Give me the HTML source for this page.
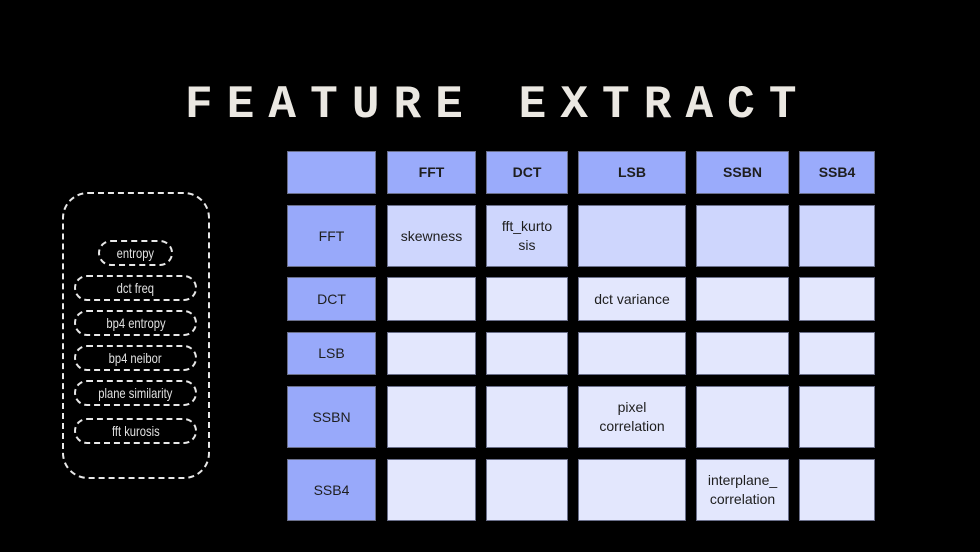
<!DOCTYPE html>
<html><head><style>
body{margin:0;width:980px;height:552px;background:#000;position:relative;overflow:hidden;font-family:"Liberation Sans",sans-serif}
.c{position:absolute;display:flex;align-items:center;justify-content:center;text-align:center;font-size:14px;color:#1e1e1e;box-sizing:border-box;border:1px solid #6a6f8a;line-height:19px}
.h{background:#9aabfb;font-weight:bold}
.r{background:#98a9fa}
.l{background:#ced6fd}
.e{background:#e3e7fd}
.p{position:absolute;border:2px dashed #e8e8e8;border-radius:13px;box-sizing:border-box;color:#e0e0e0;display:flex;align-items:center;justify-content:center;font-size:14px}
.p span{display:inline-block;transform:scaleX(.8)}
#t{position:absolute;left:185px;top:82px;font-family:"Liberation Mono",monospace;font-weight:bold;font-size:46px;letter-spacing:14.1px;color:#ebe8e2;white-space:pre;line-height:46px}
</style></head><body>
<div id="t">FEATURE EXTRACT</div>
<div style="position:absolute;left:62px;top:192px;width:148px;height:287px;border:2px dashed #e8e8e8;border-radius:26px;box-sizing:border-box"></div>
<div class="p" style="left:98px;top:240px;width:75px;height:26px"><span>entropy</span></div>
<div class="p" style="left:74px;top:275px;width:123px;height:26px"><span>dct freq</span></div>
<div class="p" style="left:74px;top:310px;width:123px;height:26px"><span>bp4 entropy</span></div>
<div class="p" style="left:74px;top:345px;width:123px;height:26px"><span>bp4 neibor</span></div>
<div class="p" style="left:74px;top:380px;width:123px;height:26px"><span>plane similarity</span></div>
<div class="p" style="left:74px;top:418px;width:123px;height:26px"><span>fft kurosis</span></div>
<div id="g"></div>
<script>
var xs=[[287,376],[387,476],[486,568],[578,686],[696,789],[799,875]];
var ys=[[151,194],[205,267],[277,321],[332,375],[386,448],[459,521]];
var n=["","FFT","DCT","LSB","SSBN","SSB4"];
var txt={"1,1":"skewness","1,2":"fft_kurto<br>sis","2,3":"dct variance","4,3":"pixel<br>correlation","5,4":"interplane_<br>correlation"};
var h="";
for(var r=0;r<6;r++)for(var c=0;c<6;c++){
var cls=r==0?"h":(c==0?"r":(r==1?"l":"e"));
var t=r==0?n[c]:(c==0?n[r]:(txt[r+","+c]||""));
h+='<div class="c '+cls+'" style="left:'+xs[c][0]+'px;top:'+ys[r][0]+'px;width:'+(xs[c][1]-xs[c][0])+'px;height:'+(ys[r][1]-ys[r][0])+'px">'+t+'</div>';}
document.getElementById("g").innerHTML=h;
</script>
</body></html>
